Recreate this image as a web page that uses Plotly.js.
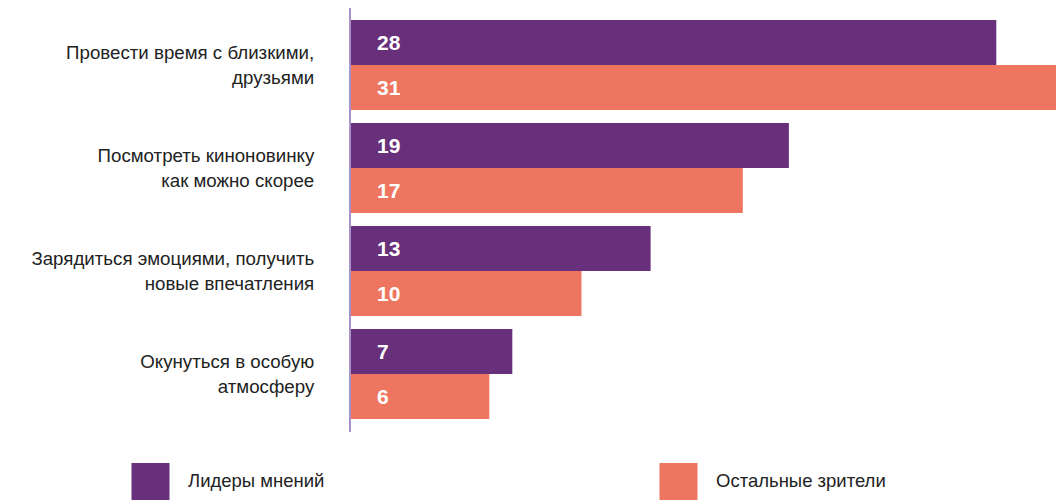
<!DOCTYPE html>
<html>
<head>
<meta charset="utf-8">
<script src="https://cdn.plot.ly/plotly-3.0.1.min.js"></script>
<style>html,body{margin:0;padding:0;background:#fff}#chart{width:1056px;height:500px}</style>
</head>
<body>
<div id="chart"></div>
<script>
const categories = [
  "Провести время с близкими,<br>друзьями",
  "Посмотреть киноновинку<br>как можно скорее",
  "Зарядиться эмоциями, получить<br>новые впечатления",
  "Окунуться в особую<br>атмосферу"
];
const seriesNames = ["Лидеры мнений", "Остальные зрители"];
const leaders = [28, 19, 13, 7];
const others = [31, 17, 10, 6];

const colors = ["#682f7a", "#ee7661"];
const W = 1056, H = 500;
const mL = 351, mR = 0, mT = 8, mB = 68;
const pw = W - mL - mR, ph = H - mT - mB;
const px2x = p => (p - mL) / pw;
const py2y = p => 1 - (p - mT) / ph;

const traces = [leaders, others].map((vals, i) => ({
  type: "bar",
  orientation: "h",
  name: seriesNames[i],
  x: vals,
  y: categories,
  marker: {color: colors[i], line: {width: 0}},
  hoverinfo: "none",
  showlegend: false
}));

// value labels: placed at bar start, offset by series
const annotations = [];
[leaders, others].forEach((vals, i) => {
  vals.forEach((v, j) => {
    annotations.push({
      x: 0, y: categories[j], xref: "x", yref: "y",
      text: "<b>" + v + "</b>",
      showarrow: false, xanchor: "left", yanchor: "middle",
      xshift: 24, yshift: i === 0 ? 22.5 : -22.5,
      font: {family: "Liberation Sans, Arial, sans-serif", size: 21, color: "#ffffff"}
    });
  });
});

// custom legend
const legendX = [131.5, 659.5];
const shapes = [];
seriesNames.forEach((n, i) => {
  shapes.push({
    type: "rect", xref: "paper", yref: "paper",
    x0: px2x(legendX[i]), x1: px2x(legendX[i] + 38),
    y0: py2y(463), y1: py2y(510),
    fillcolor: colors[i], line: {width: 0}
  });
  annotations.push({
    xref: "paper", yref: "paper",
    x: px2x(legendX[i] + 54), y: py2y(480),
    text: n, showarrow: false, xanchor: "left", yanchor: "middle",
    font: {family: "Liberation Sans, Arial, sans-serif", size: 18.5, color: "#222222"}
  });
});

const layout = {
  width: W, height: H,
  margin: {l: mL, r: mR, t: mT, b: mB, pad: 0},
  paper_bgcolor: "#ffffff", plot_bgcolor: "#ffffff",
  barmode: "group",
  bargap: 0.126, bargroupgap: 0,
  xaxis: {
    range: [0, 30.59], showgrid: false, zeroline: false,
    showticklabels: false, ticks: "", showline: false, fixedrange: true
  },
  yaxis: {
    type: "category", range: [3.563, -0.553], autorange: false,
    showgrid: false, zeroline: false, ticks: "",
    showline: true, linecolor: "#a892c9", linewidth: 2,
    ticklabelstandoff: 31,
    tickfont: {family: "Liberation Sans, Arial, sans-serif", size: 18.7, color: "#222222"},
    fixedrange: true
  },
  shapes: shapes,
  annotations: annotations,
  showlegend: false
};

Plotly.newPlot("chart", traces, layout, {displayModeBar: false, staticPlot: true});
</script>
</body>
</html>
